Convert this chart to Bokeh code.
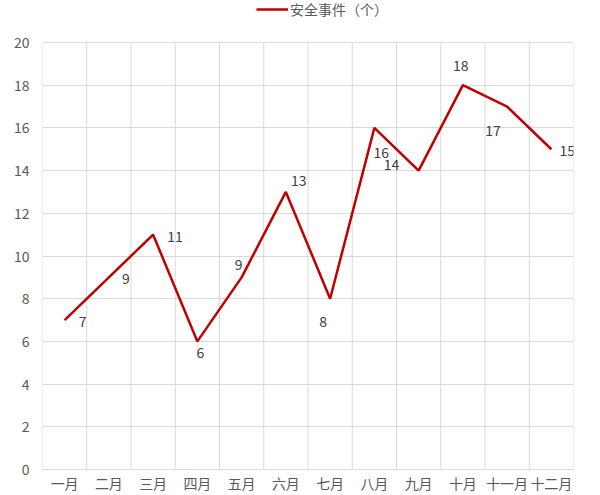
from bokeh.plotting import figure
from bokeh.models import ColumnDataSource, LabelSet, FixedTicker, Range1d, Legend, LegendItem
from bokeh.core.properties import value
from bokeh.embed import file_html
from bokeh.resources import INLINE
import numpy as np

months = ["一月", "二月", "三月", "四月", "五月", "六月", "七月", "八月", "九月", "十月", "十一月", "十二月"]
events = [7, 9, 11, 6, 9, 13, 8, 16, 14, 18, 17, 15]
series_name = "安全事件（个）"
y_ticks = list(range(0, 21, 2))

# data-label offsets in screen pixels (style)
label_dx = [18, 17, 22, 3, -3, 13, -7, 7, -27, -2, -14, 16]
label_dy = [-1, -1, -2, -11, 13, 11, -23, -25, 6, 20, -24, -1]

FONT = "Noto Sans CJK SC"
GRID = "#d9d9d9"
TXT = "#595959"
xs = np.arange(len(months)) + 0.5
ymax = y_ticks[-1]

# frame spans the canvas top so that the legend can sit above the value area
FRAME_H = 469        # px from canvas top to the zero line
AREA_H = 427         # px used by 0..ymax
top_extent = ymax * FRAME_H / AREA_H

src = ColumnDataSource(dict(x=xs, y=events, t=[str(v) for v in events], dx=label_dx, dy=label_dy))
bounds = list(range(len(months) + 1))
grid_src = ColumnDataSource(dict(x=bounds, y0=[0] * len(bounds), y1=[ymax] * len(bounds)))

p = figure(width=600, height=495, output_backend="svg", toolbar_location=None,
           x_range=Range1d(0, len(months)), y_range=Range1d(0, top_extent),
           min_border_left=42, min_border_right=27, min_border_top=0, min_border_bottom=24)
p.outline_line_color = None

p.segment(x0="x", y0="y0", x1="x", y1="y1", source=grid_src, line_color=GRID, line_width=1)
r = p.line("x", "y", source=src, line_color="#C00000", line_width=2.5)

labels = LabelSet(x="x", y="y", text="t", source=src, x_offset="dx", y_offset="dy",
                  text_align="center", text_baseline="middle",
                  text_font=value(FONT), text_font_size="14px", text_color="#404040")
p.add_layout(labels)

p.xaxis.ticker = FixedTicker(ticks=list(xs))
p.xaxis.major_label_overrides = {float(x): m for x, m in zip(xs, months)}
p.xaxis.axis_line_color = GRID
p.xaxis.major_tick_line_color = None
p.xaxis.minor_tick_line_color = None
p.xaxis.major_tick_out = 0
p.xaxis.major_tick_in = 0
p.xaxis.major_label_standoff = 3
p.xaxis.major_label_text_font = FONT
p.xaxis.major_label_text_font_size = "14px"
p.xaxis.major_label_text_color = TXT

p.yaxis.ticker = FixedTicker(ticks=y_ticks)
p.yaxis.axis_line_color = None
p.yaxis.major_tick_line_color = None
p.yaxis.minor_tick_line_color = None
p.yaxis.major_tick_out = 0
p.yaxis.major_tick_in = 0
p.yaxis.major_label_standoff = 13
p.yaxis.major_label_text_font = FONT
p.yaxis.major_label_text_font_size = "14px"
p.yaxis.major_label_text_color = TXT

p.xgrid.grid_line_color = None
p.ygrid.ticker = FixedTicker(ticks=y_ticks)
p.ygrid.grid_line_color = GRID

legend = Legend(items=[LegendItem(label=series_name, renderers=[r])], orientation="horizontal",
                location=(214, 450), margin=0, padding=0, glyph_width=32, glyph_height=14,
                label_standoff=2, label_height=14,
                label_text_font=FONT, label_text_font_size="14px", label_text_color=TXT,
                border_line_color=None, background_fill_alpha=0)
p.add_layout(legend)

open("out.html", "w").write(file_html(p, INLINE))
